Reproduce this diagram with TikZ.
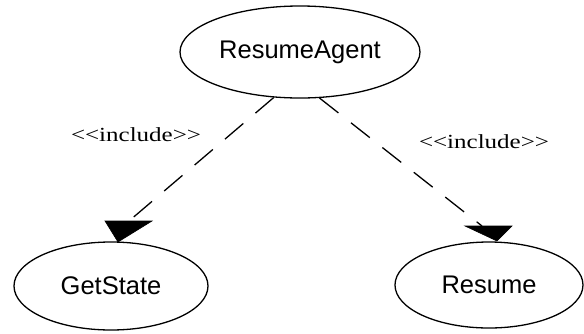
\documentclass[tikz,border=0pt]{standalone}
\usepackage{fontspec}
\setmainfont{Liberation Sans}
\newfontfamily\stereofont[FakeStretch=1.25]{Liberation Serif}
\usetikzlibrary{shapes.geometric}

\tikzset{
  usecase/.style={ellipse, draw=black, line width=1.3pt, inner sep=0pt,
    font=\fontsize{25.5}{29}\selectfont},
  incl/.style={draw=black, line width=1.3pt, dash pattern=on 24pt off 16pt},
  tiphead/.style={fill=black, draw=black, line width=0.6pt},
  stereo/.style={inner sep=0pt, font=\stereofont\fontsize{20}{22}\selectfont}
}

\begin{document}
\begin{tikzpicture}[x=1pt, y=-1pt]
  \useasboundingbox (0,0) rectangle (584,333);

  % use cases
  \node[usecase, minimum width=240pt, minimum height=92pt] (ra) at (300,52) {ResumeAgent};
  \node[usecase, minimum width=194pt, minimum height=88pt] (gs) at (111,286) {GetState};
  \node[usecase, minimum width=188pt, minimum height=86pt] (rs) at (489,285) {Resume};

  % ends of the include dependencies
  \coordinate (endL) at (129,221);
  \coordinate (endR) at (482,226);

  % include dependencies
  \draw[incl] (ra.240) -- (endL);
  \draw[incl] (ra.293) -- (endR);

  % filled arrow heads
  \draw[tiphead] (105,221) -- (152,221) -- (118,242) -- cycle;
  \draw[tiphead] (465,226) -- (512,226) -- (497,241) -- cycle;

  % stereotype labels
  \node[stereo] (lblL) at (136,135) {<{}<include>{}>};
  \node[stereo] (lblR) at (484,142) {<{}<include>{}>};
\end{tikzpicture}
\end{document}
